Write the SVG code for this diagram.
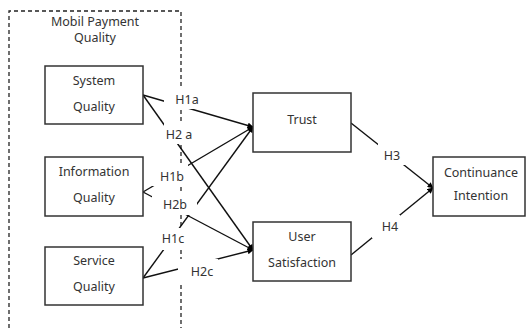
<svg xmlns="http://www.w3.org/2000/svg" width="527" height="328" viewBox="0 0 527 328">
<defs>
<marker id="ah" viewBox="0 0 10 10" refX="9" refY="5" markerWidth="7" markerHeight="6" orient="auto" markerUnits="userSpaceOnUse">
<path d="M0,0 L10,5 L0,10 z" fill="#000"/>
</marker>
<style>
.box{fill:#fff;stroke:#333;stroke-width:1.5}
.t{font-family:"Noto Sans","DejaVu Sans",sans-serif;font-size:12.5px;fill:#333;text-anchor:middle}
.c{stroke:#111;stroke-width:1.4;fill:none}
.ca{stroke:#111;stroke-width:1.4;fill:none;marker-end:url(#ah)}
.bg{fill:#fff;stroke:none}
.dash{stroke:#222;stroke-width:1.3;fill:none;stroke-dasharray:4 3}
</style>
</defs>
<rect width="527" height="328" fill="#fff"/>
<g id="group-mobile-payment-quality">
<path class="dash" d="M9,328 V11 H181 V328"/>
<text class="t" x="95" y="26">Mobil Payment</text>
<text class="t" x="95" y="42">Quality</text>
</g>
<g id="connectors">
<line class="ca" x1="143" y1="95" x2="253" y2="127"/>
<line class="ca" x1="143" y1="95" x2="253" y2="250"/>
<line class="ca" x1="143" y1="192" x2="253" y2="127"/>
<line class="ca" x1="143" y1="192" x2="253" y2="250"/>
<line class="ca" x1="143" y1="278" x2="253" y2="127"/>
<line class="ca" x1="143" y1="278" x2="253" y2="250"/>
<line class="ca" x1="351" y1="123" x2="433" y2="188"/>
<line class="ca" x1="351" y1="255" x2="433" y2="188"/>
</g>
<g id="labels">
<g id="label-h1a"><rect class="bg" x="164" y="88" width="33" height="21"/><text class="t" x="187" y="104">H1a</text></g>
<g id="label-h2a"><rect class="bg" x="164" y="121" width="32" height="23"/><text class="t" x="179" y="139">H2 a</text></g>
<g id="label-h1b"><rect class="bg" x="152" y="164" width="36" height="22"/><text class="t" x="172" y="181">H1b</text></g>
<g id="label-h2b"><rect class="bg" x="152" y="194" width="45" height="21"/><text class="t" x="175" y="209">H2b</text></g>
<g id="label-h1c"><rect class="bg" x="160" y="228" width="28" height="22"/><text class="t" x="173" y="243">H1c</text></g>
<g id="label-h2c"><rect class="bg" x="178" y="259" width="40" height="24"/><text class="t" x="202" y="276">H2c</text></g>
<g id="label-h3"><rect class="bg" x="378" y="143" width="27" height="22"/><text class="t" x="392" y="160">H3</text></g>
<g id="label-h4"><rect class="bg" x="372" y="215" width="28" height="23"/><text class="t" x="390" y="231">H4</text></g>
</g>
<g id="node-system-quality">
<rect class="box" x="45" y="66" width="98" height="58"/>
<text class="t" x="94" y="85">System</text>
<text class="t" x="94" y="111">Quality</text>
</g>
<g id="node-information-quality">
<rect class="box" x="45" y="157" width="98" height="59"/>
<text class="t" x="94" y="176">Information</text>
<text class="t" x="94" y="202">Quality</text>
</g>
<g id="node-service-quality">
<rect class="box" x="45" y="247" width="98" height="58"/>
<text class="t" x="94" y="265">Service</text>
<text class="t" x="94" y="291">Quality</text>
</g>
<g id="node-trust">
<rect class="box" x="253" y="93" width="98" height="59"/>
<text class="t" x="302" y="124">Trust</text>
</g>
<g id="node-user-satisfaction">
<rect class="box" x="253" y="222" width="98" height="59"/>
<text class="t" x="302" y="241">User</text>
<text class="t" x="302" y="267">Satisfaction</text>
</g>
<g id="node-continuance-intention">
<rect class="box" x="433" y="157" width="92" height="59"/>
<text class="t" x="481" y="177">Continuance</text>
<text class="t" x="481" y="200">Intention</text>
</g>
</svg>
